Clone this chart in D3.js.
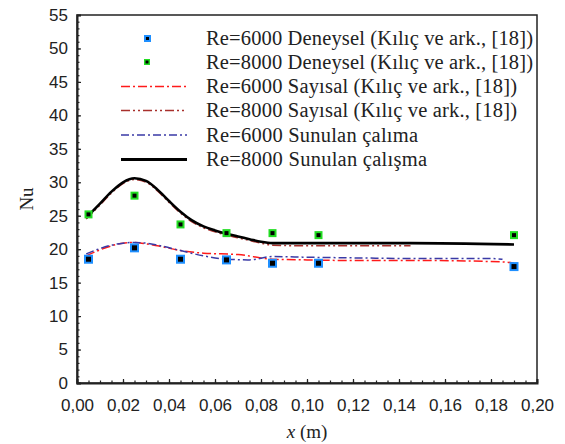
<!DOCTYPE html>
<html><head><meta charset="utf-8">
<script src="https://cdn.jsdelivr.net/npm/d3@7"></script>
<style>
html,body{margin:0;padding:0;background:#fff;}
svg{display:block;}
</style></head>
<body><svg id="c" width="565" height="444"></svg>
<script>
// ---- data ----
const xTicks = [0, 0.02, 0.04, 0.06, 0.08, 0.10, 0.12, 0.14, 0.16, 0.18, 0.20];
const yTicks = [0, 5, 10, 15, 20, 25, 30, 35, 40, 45, 50, 55];

const exp6000X = [0.005, 0.025, 0.045, 0.065, 0.085, 0.105, 0.19];
const exp6000Y = [18.5, 20.2, 18.5, 18.4, 17.9, 17.9, 17.4];
const exp8000X = [0.005, 0.025, 0.045, 0.065, 0.085, 0.105, 0.19];
const exp8000Y = [25.2, 28.0, 23.7, 22.4, 22.4, 22.1, 22.1];

const num6000X = [0.004, 0.01, 0.015, 0.02, 0.025, 0.03, 0.035, 0.045, 0.055, 0.07, 0.085, 0.1, 0.12, 0.15, 0.185, 0.19];
const num6000Y = [19.0, 19.9, 20.5, 20.9, 21.0, 20.8, 20.5, 19.8, 19.4, 19.2, 18.5, 18.4, 18.3, 18.3, 18.1, 17.9];

const num8000X = [0.004, 0.01, 0.015, 0.02, 0.025, 0.03, 0.035, 0.04, 0.045, 0.05, 0.055, 0.06, 0.065, 0.07, 0.075, 0.08, 0.085, 0.1, 0.145];
const num8000Y = [24.5, 26.6, 28.4, 29.8, 30.4, 30.0, 28.7, 27.0, 25.4, 24.1, 23.2, 22.6, 22.1, 21.7, 21.3, 20.9, 20.6, 20.5, 20.5];

const pres6000X = [0.004, 0.01, 0.015, 0.02, 0.025, 0.03, 0.035, 0.045, 0.055, 0.065, 0.075, 0.085, 0.1, 0.12, 0.15, 0.18, 0.185];
const pres6000Y = [19.3, 20.1, 20.6, 20.9, 21.0, 20.9, 20.6, 19.8, 19.0, 18.5, 18.4, 18.9, 18.8, 18.7, 18.6, 18.6, 18.5];

const pres8000X = [0.004, 0.01, 0.015, 0.02, 0.025, 0.03, 0.035, 0.04, 0.045, 0.05, 0.055, 0.06, 0.065, 0.07, 0.075, 0.08, 0.085, 0.1, 0.145, 0.19];
const pres8000Y = [24.7, 26.8, 28.6, 30.0, 30.6, 30.2, 28.9, 27.2, 25.6, 24.3, 23.4, 22.8, 22.3, 21.9, 21.5, 21.1, 20.9, 20.9, 20.9, 20.7];

const legendLabels = [
  "Re=6000 Deneysel  (Kılıç ve ark., [18])",
  "Re=8000 Deneysel  (Kılıç ve ark., [18])",
  "Re=6000 Sayısal (Kılıç ve ark., [18])",
  "Re=8000 Sayısal (Kılıç ve ark., [18])",
  "Re=6000 Sunulan çalıma",
  "Re=8000 Sunulan çalışma"
];
const legendWidths = [327, 327, 311, 311, 212, 221];

// ---- chart ----
const SERIF = '"Liberation Serif", "Times New Roman", serif';
const SANS = '"Liberation Sans", Arial, sans-serif';
const svg = d3.select("#c");
const L = 77, R = 537, T = 15, B = 383;
const x = d3.scaleLinear().domain([0, 0.2]).range([L, R]);
const y = d3.scaleLinear().domain([0, 55]).range([B, T]);
const ink = "#222";

// frame
svg.append("rect").attr("x", L).attr("y", T).attr("width", R - L).attr("height", B - T)
  .attr("fill", "none").attr("stroke", ink).attr("stroke-width", 1.5);

const fmtX = v => d3.format(".2f")(v).replace(".", ",");

// minor ticks
const xMinor = d3.range(0, 0.2001, 0.005);
const yMinor = d3.range(0, 55.01, 1);
svg.append("g").attr("transform", `translate(0,${B})`)
  .call(d3.axisBottom(x).tickValues(xMinor).tickSize(-2.5).tickFormat(""))
  .call(g => g.select(".domain").remove())
  .selectAll("line").attr("stroke", ink).attr("stroke-width", 1.2);
svg.append("g").attr("transform", `translate(${L},0)`)
  .call(d3.axisLeft(y).tickValues(yMinor).tickSize(-2.5).tickFormat(""))
  .call(g => g.select(".domain").remove())
  .selectAll("line").attr("stroke", ink).attr("stroke-width", 1.2);

// major axes
const gx = svg.append("g").attr("transform", `translate(0,${B})`)
  .call(d3.axisBottom(x).tickValues(xTicks).tickSize(-4).tickPadding(16).tickFormat(fmtX));
const gy = svg.append("g").attr("transform", `translate(${L},0)`)
  .call(d3.axisLeft(y).tickValues(yTicks).tickSize(-4).tickPadding(9).tickFormat(d3.format("d")));
[gx, gy].forEach(g => {
  g.attr("font-family", null).attr("font-size", null);
  g.select(".domain").attr("stroke", ink).attr("stroke-width", 2);
  g.selectAll(".tick line").attr("stroke", ink).attr("stroke-width", 1.2);
  g.selectAll(".tick text").attr("fill", ink).style("font-family", SANS).style("font-size", "17px");
});

// axis titles
svg.append("text").attr("x", (L + R) / 2).attr("y", 438).attr("text-anchor", "middle")
  .style("font-family", SERIF).style("font-size", "19px").attr("fill", ink)
  .call(t => { t.append("tspan").style("font-style", "italic").text("x"); t.append("tspan").text(" (m)"); });
svg.append("text").attr("transform", `translate(33,${(T + B) / 2}) rotate(-90)`)
  .attr("text-anchor", "middle").style("font-family", SERIF).style("font-size", "19px")
  .attr("fill", ink).text("Nu");

// lines
const line = d3.line().x(d => x(d[0])).y(d => y(d[1])).curve(d3.curveMonotoneX);
const zip = (a, b) => a.map((v, i) => [v, b[i]]);

const lineStyles = [
  { xs: num6000X, ys: num6000Y, color: "#ff1a1a", width: 1.5, dash: "9,3,2,3" },
  { xs: num8000X, ys: num8000Y, color: "#a8302c", width: 1.5, dash: "9,3,2,3,2,3" },
  { xs: pres6000X, ys: pres6000Y, color: "#3a3aa6", width: 1.5, dash: "8,3,2,3" },
  { xs: pres8000X, ys: pres8000Y, color: "#000", width: 2.6, dash: null }
];
const plot = svg.append("g");
lineStyles.forEach(s => {
  plot.append("path").attr("d", line(zip(s.xs, s.ys)))
    .attr("fill", "none").attr("stroke", s.color).attr("stroke-width", s.width)
    .attr("stroke-dasharray", s.dash);
});

// markers
function drawMarkers(xs, ys, fill, size, inner) {
  const g = plot.append("g");
  zip(xs, ys).forEach(d => {
    g.append("rect").attr("x", x(d[0]) - size / 2).attr("y", y(d[1]) - size / 2)
      .attr("width", size).attr("height", size).attr("fill", fill);
    g.append("rect").attr("x", x(d[0]) - inner / 2).attr("y", y(d[1]) - inner / 2)
      .attr("width", inner).attr("height", inner).attr("fill", "#000");
  });
}
drawMarkers(exp6000X, exp6000Y, "#1e8fff", 9, 5);
drawMarkers(exp8000X, exp8000Y, "#22dd22", 8, 4);

// legend
const leg = svg.append("g");
const rowY = [38.5, 62, 86.5, 110.5, 135, 159.5];
legendLabels.forEach((lab, i) => {
  leg.append("text").attr("x", 206).attr("y", rowY[i] + 6.8)
    .attr("textLength", legendWidths[i]).attr("lengthAdjust", "spacing")
    .style("font-family", SERIF).style("font-size", "20.5px").attr("fill", ink).text(lab);
});
leg.append("rect").attr("x", 144).attr("y", rowY[0] - 3.5).attr("width", 7).attr("height", 7).attr("fill", "#1e8fff");
leg.append("rect").attr("x", 146).attr("y", rowY[0] - 1.5).attr("width", 3).attr("height", 3).attr("fill", "#000");
leg.append("rect").attr("x", 144).attr("y", rowY[1] - 3).attr("width", 6).attr("height", 6).attr("fill", "#22dd22");
leg.append("rect").attr("x", 145.5).attr("y", rowY[1] - 1.5).attr("width", 3).attr("height", 3).attr("fill", "#000");
lineStyles.forEach((s, i) => {
  leg.append("line").attr("x1", 121).attr("x2", 187).attr("y1", rowY[i + 2]).attr("y2", rowY[i + 2])
    .attr("stroke", s.color).attr("stroke-width", s.width === 2.6 ? 3.2 : 1.5)
    .attr("stroke-dasharray", s.dash);
});
</script>
</body></html>
